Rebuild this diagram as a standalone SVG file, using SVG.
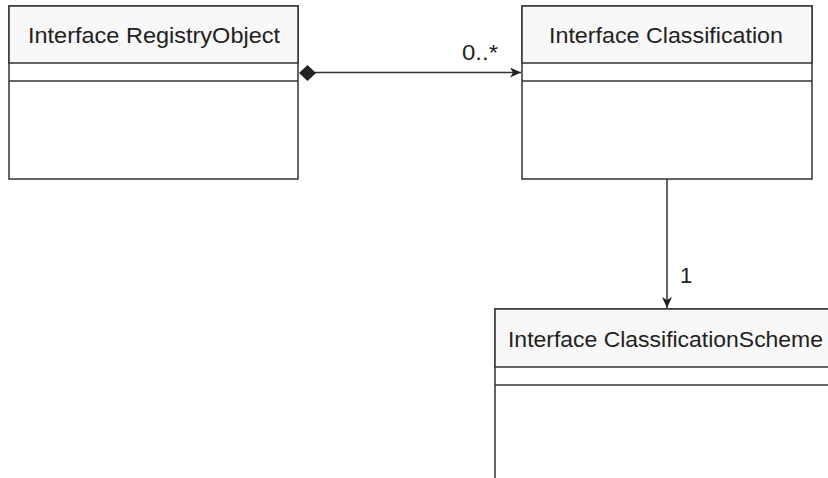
<svg xmlns="http://www.w3.org/2000/svg" width="828" height="478" viewBox="0 0 828 478">
<style>
.box{fill:#fff;stroke:#333;stroke-width:1.5}
.hdr{fill:#f8f8f8;stroke:#333;stroke-width:1.5}
.div{stroke:#333;stroke-width:1.5}
.t{font-family:"Liberation Sans",Arial,sans-serif;font-size:22px;fill:#222}
.lbl{font-family:"Liberation Sans",Arial,sans-serif;font-size:22px;fill:#222}
.con{stroke:#333;stroke-width:1.5;fill:none}
</style>
<defs>
<marker id="arr" markerWidth="12" markerHeight="10" refX="11" refY="5" orient="auto" markerUnits="userSpaceOnUse">
<path d="M0,0 L11,5 L0,10 L3,5 Z" fill="#222"/>
</marker>
</defs>
<rect width="828" height="478" fill="#fff"/>
<g id="registryObject">
<rect class="box" x="9" y="6" width="289" height="173"/>
<rect class="hdr" x="9" y="6" width="289" height="57"/>
<line class="div" x1="9" y1="81" x2="298" y2="81"/>
<text class="t" x="154" y="43" text-anchor="middle" textLength="252" lengthAdjust="spacingAndGlyphs">Interface RegistryObject</text>
</g>
<g id="classification">
<rect class="box" x="522" y="6" width="290" height="173"/>
<rect class="hdr" x="522" y="6" width="290" height="57"/>
<line class="div" x1="522" y1="81" x2="812" y2="81"/>
<text class="t" x="666" y="43" text-anchor="middle" textLength="234" lengthAdjust="spacingAndGlyphs">Interface Classification</text>
</g>
<g id="classificationScheme">
<rect class="box" x="495" y="309" width="345" height="200"/>
<rect class="hdr" x="495" y="309" width="345" height="58"/>
<line class="div" x1="495" y1="385" x2="840" y2="385"/>
<text class="t" x="508" y="347" textLength="315" lengthAdjust="spacingAndGlyphs">Interface ClassificationScheme</text>
</g>
<g id="connectors">
<path class="con" d="M315,72.5 L521,72.5" marker-end="url(#arr)"/>
<path d="M299,73 L307.5,65 L316,73 L307.5,81 Z" fill="#222"/>
<text class="lbl" x="462" y="60" textLength="36" lengthAdjust="spacingAndGlyphs">0..*</text>
<text class="lbl" x="680" y="283">1</text>
<path class="con" d="M667,179 L667,308" marker-end="url(#arr)"/>
</g>
</svg>
